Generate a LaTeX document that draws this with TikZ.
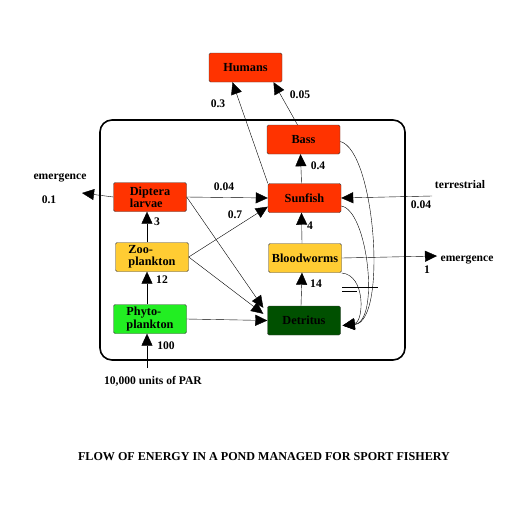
\documentclass[tikz,border=0pt]{standalone}
\usepackage{fontspec}
\setmainfont{Liberation Serif}
\usetikzlibrary{arrows.meta}
\definecolor{fishred}{RGB}{255,51,0}
\definecolor{wormyellow}{RGB}{255,204,51}
\definecolor{algagreen}{RGB}{34,238,34}
\definecolor{mudgreen}{RGB}{0,80,0}
\tikzset{
    box/.style={draw=black!75, rounded corners=1.5pt, minimum width=73pt, minimum height=29pt,
        inner sep=2pt, align=left, font=\bfseries\fontsize{12.3}{12.3}\selectfont},
    lbl/.style={inner sep=0pt, font=\bfseries\fontsize{11.6}{11.6}\selectfont},
    flow/.style={-{Triangle[length=12pt,width=11pt]}},
}

\begin{document}
\begin{tikzpicture}[x=1pt,y=-1pt]
        \useasboundingbox (0,0) rectangle (519,509);
        % the pond
        \draw[line width=1.6pt, rounded corners=12pt] (100,120) rectangle (405,360);
        \node[box,fill=fishred] (humans) at (245.5,67.5) {Humans};
        \node[box,fill=fishred] (bass) at (303.5,139.5) {Bass};
        \node[box,fill=fishred] (sunfish) at (304.5,198) {Sunfish};
        \node[box,fill=wormyellow] (bloodworms) at (305,258) {Bloodworms};
        \node[box,fill=mudgreen] (detritus) at (304,320.5) {Detritus};
        \node[box,fill=fishred] (diptera) at (150,197) {Diptera\\larvae};
        \node[box,fill=wormyellow] (zoo) at (152,257) {Zoo-\\plankton};
        \node[box,fill=algagreen] (phyto) at (150,319) {Phyto-\\plankton};
        \coordinate (par) at (147,368);
        \coordinate (emdip) at (82,193);
        \coordinate (terr) at (432,196);
        \coordinate (emworm) at (437,256);
        \node[lbl] (parlbl) at (153,381) {10,000 units of PAR};
        \node[lbl] (emdiplbl) at (60,178) {emergence};
        \node[lbl] (emdipval) at (49,200) {0.1};
        \node[lbl] (terrlbl) at (460,185) {terrestrial};
        \node[lbl] (terrval) at (421,205) {0.04};
        \node[lbl] (emwormlbl) at (467,260) {emergence};
        \node[lbl] (emwormval) at (427,270) {1};
        \node[lbl] (v03) at (218,104) {0.3};
        \node[lbl] (v005) at (300,95) {0.05};
        \node[lbl] (v04) at (318,166) {0.4};
        \node[lbl] (v4) at (310,226) {4};
        \node[lbl] (v14) at (316,284) {14};
        \node[lbl] (v004) at (224,187) {0.04};
        \node[lbl] (v07) at (235,215) {0.7};
        \node[lbl] (v3) at (157,222) {3};
        \node[lbl] (v12) at (162,280) {12};
        \node[lbl] (v100) at (166,346) {100};
        \draw[flow] (par) -- (phyto.south -| par);
        \draw[flow] (phyto.north -| par) -- (zoo.south -| par);
        \draw[flow] (zoo.north -| par) -- (diptera.south -| par);
        \draw[flow] (diptera.west) -- (emdip);
        \draw[flow] (diptera.east) -- (sunfish.west);
        \draw[flow] (zoo.east) -- ([yshift=6pt]sunfish.south west);
        \draw[flow] (diptera.east) -- ([shift={(-4pt,-2pt)}]detritus.north west);
        \draw[flow] (zoo.east) -- ([shift={(-4pt,-8pt)}]detritus.north west);
        \draw[flow] (phyto.east) -- (detritus.west);
        \draw[flow] ([xshift=-3pt]detritus.north) -- ([xshift=-3pt]bloodworms.south);
        \draw[flow] ([xshift=-3pt]bloodworms.north) -- ([xshift=-3pt]sunfish.south);
        \draw[flow] ([xshift=-3pt]sunfish.north) -- ([xshift=-3pt]bass.north |- bass.south);
        \draw[flow] ([xshift=-6pt]bass.north) -- ([xshift=28pt]humans.south);
        \draw[flow] (sunfish.north west) -- ([xshift=-13pt]humans.south);
        \draw[flow] (terr) -- (sunfish.east);
        \draw[flow] (bloodworms.east) -- (emworm);
        % returns to detritus
        \draw[flow] ([yshift=-2pt]bass.east) .. controls (375,150) and (388,322) .. ([xshift=2pt,yshift=-5pt]detritus.east);
        \draw[flow] ([yshift=-8pt]sunfish.east) .. controls (368,210) and (380,322) .. ([xshift=2pt,yshift=-5pt]detritus.east);
        \draw[flow] ([yshift=-15pt]bloodworms.east) .. controls (366,275) and (364,322) .. ([xshift=2pt,yshift=-5pt]detritus.east);
        \draw (342,287) -- (378,287);
        \draw (342,291) -- (357,291);
        \node[lbl] (title) at (264,457) {\fontsize{12.1}{12.1}\selectfont FLOW OF ENERGY IN A POND MANAGED FOR SPORT FISHERY};
\end{tikzpicture}
\end{document}
